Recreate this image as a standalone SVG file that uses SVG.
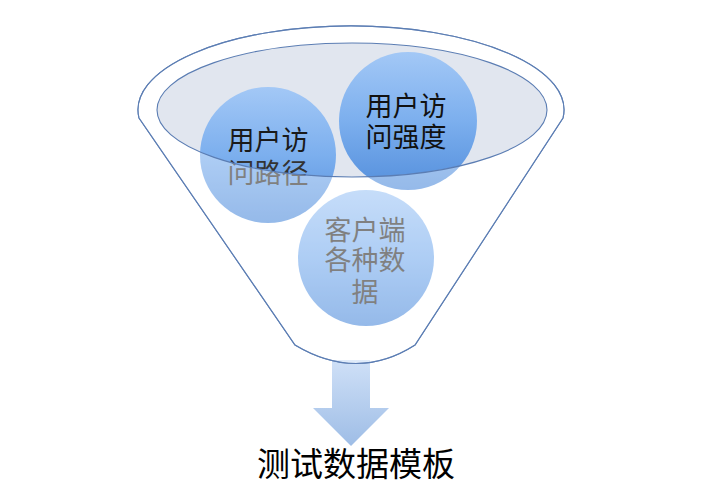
<svg xmlns="http://www.w3.org/2000/svg" width="707" height="500" viewBox="0 0 707 500">
<style>
.edge{fill:none;stroke:#5b7db3;stroke-width:1.1}
.lbl{font-family:"Noto Sans CJK SC","Noto Sans",sans-serif;font-size:27px;text-anchor:middle;dominant-baseline:central}
.title{font-family:"Noto Sans CJK SC","Noto Sans",sans-serif;font-size:33px;text-anchor:middle;fill:#000}
</style>
<defs>
<linearGradient id="cg" x1="0" y1="0" x2="0" y2="1">
<stop offset="0" stop-color="#a3c8f6"/>
<stop offset="0.5" stop-color="#7cafee"/>
<stop offset="1" stop-color="#548fdc"/>
</linearGradient>
<linearGradient id="ag" x1="0" y1="0" x2="0" y2="1">
<stop offset="0" stop-color="#cfe0f7"/>
<stop offset="1" stop-color="#9ebde6"/>
</linearGradient>
</defs>
<rect width="707" height="500" fill="#fff"/>
<g id="arrow">
<path d="M332,360 L370,360 L370,408 L389,408 L351,446 L313,408 L332,408 Z" fill="url(#ag)"/>
</g>
<g id="funnel">
<path d="M139,118 A213 84 0 1 1 563,118 L415,345 Q357,382 295,345 Z" fill="#fff" class="edge"/>
<ellipse cx="352" cy="110" rx="195" ry="67" fill="#e1e6ef"/>
</g>
<g id="node-path">
<circle cx="268" cy="155" r="68" fill="url(#cg)"/>
<text class="lbl" x="268" y="138" fill="#1a1a1a">用户访</text>
<text class="lbl" x="268" y="171" fill="#333">问路径</text>
</g>
<g id="node-strength">
<circle cx="408" cy="121" r="69" fill="url(#cg)"/>
<text class="lbl" x="406" y="104" fill="#111">用户访</text>
<text class="lbl" x="406" y="135" fill="#111">问强度</text>
</g>
<g id="node-client">
<circle cx="366" cy="258" r="68" fill="url(#cg)"/>
<text class="lbl" x="365" y="228" fill="#333">客户端</text>
<text class="lbl" x="365" y="258" fill="#333">各种数</text>
<text class="lbl" x="365" y="290" fill="#333">据</text>
</g>
<g id="overlay">
<path d="M139,118 A213 84 0 1 1 563,118 L415,345 Q357,382 295,345 Z M157,110 A195 67 0 1 0 547,110 A195 67 0 1 0 157,110 Z" fill="#fff" fill-opacity="0.38" fill-rule="evenodd"/>
</g>
<g id="connectors">
<path class="edge" d="M139,118 A213 84 0 1 1 563,118 L415,345 Q357,382 295,345 Z"/>
<ellipse class="edge" cx="352" cy="110" rx="195" ry="67"/>
</g>
<g id="node-title">
<text class="title" x="356" y="476">测试数据模板</text>
</g>
</svg>
